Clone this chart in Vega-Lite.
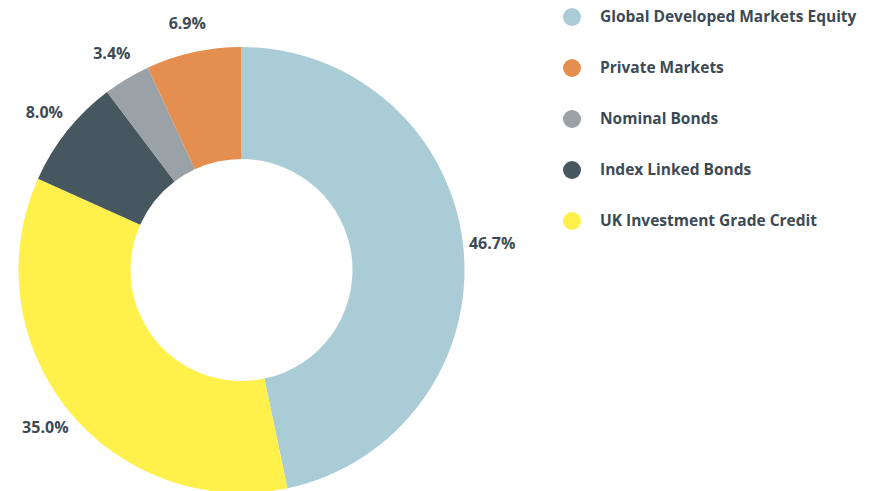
{
  "$schema": "https://vega.github.io/schema/vega-lite/v6.json",
  "width": 483,
  "height": 540,
  "padding": 0,
  "autosize": {"type": "pad"},
  "background": "white",
  "config": {"view": {"stroke": null}},
  "data": {
    "values": [
      {"seq": 1, "category": "Global Developed Markets Equity", "share": 0.467},
      {"seq": 2, "category": "UK Investment Grade Credit", "share": 0.350},
      {"seq": 3, "category": "Index Linked Bonds", "share": 0.080},
      {"seq": 4, "category": "Nominal Bonds", "share": 0.034},
      {"seq": 5, "category": "Private Markets", "share": 0.069}
    ]
  },
  "encoding": {
    "theta": {"field": "share", "type": "quantitative", "stack": true},
    "order": {"field": "seq", "type": "quantitative"}
  },
  "layer": [
    {
      "mark": {"type": "arc", "outerRadius": 223, "innerRadius": 111},
      "encoding": {
        "color": {
          "field": "category",
          "type": "nominal",
          "scale": {
            "domain": ["Global Developed Markets Equity", "Private Markets", "Nominal Bonds", "Index Linked Bonds", "UK Investment Grade Credit"],
            "range": ["#aaccd6", "#e48f4f", "#9aa1a7", "#465760", "#fff04c"]
          },
          "legend": {
            "title": null,
            "orient": "none",
            "legendX": 563,
            "legendY": 8,
            "symbolType": "circle",
            "symbolSize": 324,
            "symbolStrokeWidth": 0,
            "rowPadding": 33,
            "labelOffset": 19,
            "labelFont": "Open Sans",
            "labelFontWeight": "bold",
            "labelFontSize": 15.5,
            "labelColor": "#3c4a55",
            "labelLimit": 400
          }
        }
      }
    },
    {
      "mark": {"type": "text", "radius": 252, "font": "Open Sans", "fontWeight": "bold", "fontSize": 16, "color": "#3c4a55"},
      "encoding": {
        "text": {"field": "share", "type": "quantitative", "format": ".1%"}
      }
    }
  ]
}
